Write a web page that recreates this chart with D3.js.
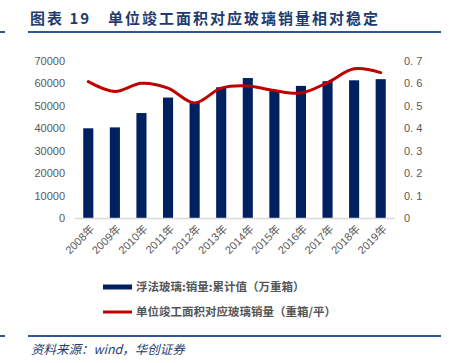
<!DOCTYPE html>
<html>
<head>
<meta charset="utf-8">
<script src="https://cdn.jsdelivr.net/npm/d3@7"></script>
<style>
  body { margin: 0; background: #fff; }
  svg { display: block; }
</style>
</head>
<body>
<svg id="chart" width="459" height="363"></svg>
<script>
const years = ["2008年","2009年","2010年","2011年","2012年","2013年","2014年","2015年","2016年","2017年","2018年","2019年"];
const salesValues = [40000, 40400, 46800, 53700, 51500, 58300, 62400, 56600, 58900, 61000, 61400, 61900];
const ratioValues = [0.608, 0.564, 0.601, 0.579, 0.513, 0.579, 0.589, 0.568, 0.557, 0.604, 0.665, 0.648];
const leftTicks = [0, 10000, 20000, 30000, 40000, 50000, 60000, 70000];
const rightTicks = [0, 0.1, 0.2, 0.3, 0.4, 0.5, 0.6, 0.7];
const titleText = "图表 19　单位竣工面积对应玻璃销量相对稳定";
const legendLabels = ["浮法玻璃:销量:累计值（万重箱）", "单位竣工面积对应玻璃销量（重箱/平）"];
const sourceText = "资料来源：wind，华创证券";

const W = 459, H = 363;
const margin = { top: 61, bottom: 145, left: 75, right: 65 };
const navy = "#002060", red = "#c00000", grey = "#595959";
const font = "'Liberation Sans', Arial, 'Noto Sans CJK SC', sans-serif";
const cjk = "'Noto Sans CJK SC', sans-serif";

const svg = d3.select("#chart");

// title
svg.append("text")
    .attr("x", 30).attr("y", 24)
    .attr("font-family", cjk)
    .attr("font-size", 15)
    .attr("font-weight", "bold")
    .attr("letter-spacing", 2)
    .attr("fill", "#1f3c6e")
    .text(titleText);

svg.append("line").attr("x1", 28).attr("x2", 441).attr("y1", 32).attr("y2", 32)
    .attr("stroke", "#2f5597").attr("stroke-width", 2);
svg.append("line").attr("x1", 0).attr("x2", 5).attr("y1", 32).attr("y2", 32)
    .attr("stroke", "#2f5597").attr("stroke-width", 2);

const xscale = d3.scaleBand()
    .domain(years)
    .range([margin.left, W - margin.right])
    .paddingInner(0.62)
    .paddingOuter(0.31);

const yLeft = d3.scaleLinear().domain([0, 70000]).range([H - margin.bottom, margin.top]);
const yRight = d3.scaleLinear().domain([0, 0.7]).range([H - margin.bottom, margin.top]);

// left axis
svg.append("g")
    .attr("transform", `translate(${margin.left - 10},0)`)
    .call(d3.axisLeft(yLeft).tickValues(leftTicks).tickSize(0).tickPadding(0)
        .tickFormat(d => String(d)))
    .call(g => g.select(".domain").remove())
    .call(g => g.selectAll("text")
        .attr("font-family", font).attr("font-size", 11).attr("fill", grey));

// right axis
svg.append("g")
    .attr("transform", `translate(${W - margin.right + 10},0)`)
    .call(d3.axisRight(yRight).tickValues(rightTicks).tickSize(0).tickPadding(0)
        .tickFormat(d => d === 0 ? "0" : d3.format(".1f")(d).replace(".", ". ")))
    .call(g => g.select(".domain").remove())
    .call(g => g.selectAll("text")
        .attr("font-family", font).attr("font-size", 11).attr("fill", grey));

// bars
svg.append("g")
    .selectAll("rect")
    .data(salesValues)
    .join("rect")
    .attr("x", (d, i) => xscale(years[i]))
    .attr("width", xscale.bandwidth())
    .attr("y", d => yLeft(d))
    .attr("height", d => yLeft(0) - yLeft(d))
    .attr("fill", navy);

// baseline
svg.append("line")
    .attr("x1", margin.left).attr("x2", W - margin.right + 1)
    .attr("y1", yLeft(0) + 0.5).attr("y2", yLeft(0) + 0.5)
    .attr("stroke", "#d9d9d9").attr("stroke-width", 1.5);

// x labels
svg.append("g")
    .selectAll("text")
    .data(years)
    .join("text")
    .attr("transform", d => `translate(${xscale(d) + xscale.bandwidth() / 2 + 4},${yLeft(0) + 9}) rotate(-45)`)
    .attr("text-anchor", "end")
    .attr("dy", "0.35em")
    .attr("font-family", font)
    .attr("font-size", 11)
    .attr("fill", grey)
    .text(d => d);

// ratio line
const line = d3.line()
    .x((d, i) => xscale(years[i]) + xscale.bandwidth() / 2)
    .y(d => yRight(d))
    .curve(d3.curveCatmullRom.alpha(0.5));

svg.append("path")
    .datum(ratioValues)
    .attr("fill", "none")
    .attr("stroke", red)
    .attr("stroke-width", 3)
    .attr("stroke-linejoin", "round")
    .attr("stroke-linecap", "round")
    .attr("d", line);

// legend
const legend = svg.append("g");
const legendY = [287, 312];
legend.selectAll("line")
    .data(legendLabels)
    .join("line")
    .attr("x1", 103).attr("x2", 132)
    .attr("y1", (d, i) => legendY[i]).attr("y2", (d, i) => legendY[i])
    .attr("stroke", (d, i) => i === 0 ? navy : red)
    .attr("stroke-width", (d, i) => i === 0 ? 5 : 3);
legend.selectAll("text")
    .data(legendLabels)
    .join("text")
    .attr("x", 136)
    .attr("y", (d, i) => legendY[i])
    .attr("dy", "0.35em")
    .attr("font-family", cjk)
    .attr("font-size", 11.5)
    .attr("font-weight", "bold")
    .attr("fill", "#555")
    .text(d => d);

// footer
svg.append("line").attr("x1", 28).attr("x2", 441).attr("y1", 336).attr("y2", 336)
    .attr("stroke", "#2f5597").attr("stroke-width", 2);
svg.append("line").attr("x1", 0).attr("x2", 5).attr("y1", 336).attr("y2", 336)
    .attr("stroke", "#2f5597").attr("stroke-width", 2);
svg.append("text")
    .attr("x", 31).attr("y", 354)
    .attr("font-family", cjk)
    .attr("font-size", 12.5)
    .attr("font-style", "italic")
    .attr("fill", "#1f3c6e")
    .text(sourceText);
</script>
</body>
</html>
